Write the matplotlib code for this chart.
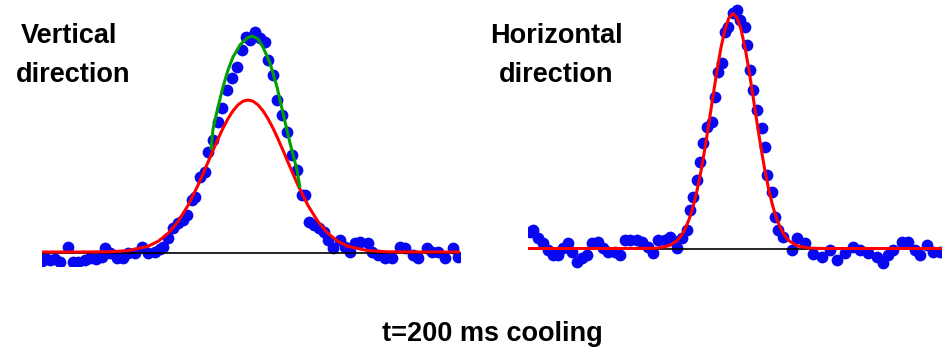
import matplotlib
matplotlib.use("Agg")
import matplotlib.pyplot as plt

plt.rcParams["font.family"] = ["Liberation Sans", "DejaVu Sans"]

# --- vertical direction (left panel) ---
vert_pos = [42, 45, 50, 55, 60, 68, 73, 78, 85, 90, 96, 102, 105, 110, 117, 123, 128,
            135, 142, 148, 155, 160, 163, 168, 173, 178, 183, 187, 192, 195, 200, 205,
            208, 213, 218, 222, 227, 232, 237, 242, 246, 250, 255, 260, 265, 268, 273,
            277, 282, 287, 292, 297, 302, 305, 309, 314, 319, 324, 328, 333, 340, 345,
            350, 355, 360, 368, 372, 378, 385, 392, 400, 405, 413, 418, 427, 432, 438,
            445, 453, 458]
vert_sig = [-8, -5, -7, -6, -9, 6, -9, -9, -7, -5, -6, -4, 5, 0, -5, -5, 0,
            0, 6, 0, 1, 4, 6, 15, 25, 30, 33, 38, 53, 56, 76, 81,
            101, 113, 131, 145, 163, 175, 186, 203, 216, 213, 221, 215, 211, 193, 178,
            153, 138, 121, 98, 83, 58, 58, 31, 28, 25, 21, 13, 5, 13, 6,
            1, 10, 11, 10, 1, -2, -5, -5, 6, 5, -2, -5, 5, 1, 1,
            -5, 5, -4]

vert_fit_pos = [42, 78, 108, 128, 148, 158, 168, 178, 188, 198, 203, 208, 213, 218, 223,
                228, 233, 238, 243, 248, 253, 258, 263, 268, 273, 278, 283, 288, 293,
                298, 308, 318, 328, 338, 348, 368, 388, 418, 460]
vert_fit_sig = [1, 1, 1.2, 2.3, 6.7, 11.6, 19.5, 31.4, 47.5, 67.8, 79.1, 90.8, 102.6,
                114.1, 124.8, 134.3, 142.2, 148.1, 151.8, 153, 151.8, 148.1, 142.2,
                134.3, 124.8, 114.1, 102.6, 90.8, 79.1, 67.8, 47.5, 31.4, 19.5, 11.6,
                6.7, 2.3, 1.2, 1, 1]

# second (narrower, taller) fit, only drawn over the peak
vert_fit2_pos = [211, 213, 218, 223, 228, 233, 240, 247, 252, 258, 263, 270, 277, 283,
                 290, 297, 300]
vert_fit2_sig = [103, 124, 146, 166, 183, 196, 208, 215, 217, 214, 206, 190, 166, 140,
                 110, 83, 65]

# --- horizontal direction (right panel) ---
hor_pos = [530, 533, 538, 543, 548, 553, 558, 563, 568, 572, 577, 582, 587, 592, 598,
           603, 608, 615, 620, 625, 630, 637, 642, 648, 653, 658, 665, 670, 672, 677,
           682, 687, 690, 693, 697, 700, 703, 707, 712, 715, 718, 722, 725, 728, 733,
           737, 740, 745, 747, 750, 753, 757, 762, 765, 767, 772, 775, 778, 783, 792,
           797, 805, 813, 822, 830, 837, 845, 853, 860, 868, 877, 883, 888, 893, 902,
           908, 915, 920, 927, 933, 940]
hor_sig = [17, 19, 11, 6, -1, -6, -6, 1, 6, -3, -13, -9, -6, 6, 7,
           1, -3, -3, -6, 9, 9, 9, 7, 2, -4, 9, 9, 12, 9, 1,
           11, 19, 39, 52, 69, 87, 106, 122, 127, 152, 177, 186, 217, 222, 236,
           239, 229, 222, 204, 179, 159, 139, 121, 102, 74, 57, 32, 19, 12, -1,
           11, 6, -5, -8, -1, -11, -4, 2, -1, -4, -8, -14, -6, -1, 7,
           7, -1, -6, 4, -3, -3]

hor_fit_pos = [528, 623, 643, 657, 669, 677, 681, 685, 689, 693, 697, 701, 705, 709,
               713, 717, 721, 725, 729, 733, 737, 741, 745, 749, 753, 757, 761, 765,
               769, 773, 777, 781, 785, 789, 797, 809, 823, 942]
hor_fit_sig = [0.5, 0.5, 0.6, 0.9, 3.2, 8.3, 13.0, 19.8, 29.4, 42.0, 58.3, 78.0, 101.1,
               126.4, 152.9, 178.6, 201.5, 219.7, 231.4, 235.4, 231.4, 219.7, 201.5,
               178.6, 152.9, 126.4, 101.1, 78.0, 58.3, 42.0, 29.4, 19.8, 13.0, 8.3,
               3.2, 0.9, 0.5, 0.5]

DOT = "#0808f0"
RED = "#ff0000"
GREEN = "#00a000"

fig = plt.figure(figsize=(9.42, 3.52), dpi=100)

# left panel
ax1 = fig.add_axes([42 / 942, 86 / 352, 418 / 942, 246 / 352])
ax1.scatter(vert_pos, vert_sig, s=72, color=DOT, linewidths=0, zorder=2)
ax1.axhline(0, color="black", lw=1.2, zorder=3)
ax1.plot(vert_fit_pos, vert_fit_sig, color=RED, lw=2.2, zorder=4)
ax1.plot(vert_fit2_pos, vert_fit2_sig, color=GREEN, lw=2.2, zorder=4,
         solid_capstyle="butt")
ax1.set_xlim(42, 460)
ax1.set_ylim(-13, 233)
ax1.axis("off")

# right panel
ax2 = fig.add_axes([528 / 942, 82 / 352, 414 / 942, 270 / 352])
ax2.scatter(hor_pos, hor_sig, s=72, color=DOT, linewidths=0, zorder=2)
ax2.hlines(0, 560, 942, color="black", lw=1.2, zorder=3)
ax2.plot(hor_fit_pos, hor_fit_sig, color=RED, lw=2.2, zorder=4)
ax2.set_xlim(528, 942)
ax2.set_ylim(-21, 249)
ax2.axis("off")

fs = 19.5
fig.text(69 / 942, 1 - 43 / 352, "Vertical", fontsize=fs, fontweight="bold",
         ha="center", va="baseline")
fig.text(73 / 942, 1 - 82 / 352, "direction", fontsize=fs, fontweight="bold",
         ha="center", va="baseline")
fig.text(556 / 942, 1 - 43 / 352, "Horizontal", fontsize=fs, fontweight="bold",
         ha="center", va="baseline")
fig.text(556 / 942, 1 - 82 / 352, "direction", fontsize=fs, fontweight="bold",
         ha="center", va="baseline")
fig.text(492 / 942, 1 - 341 / 352, "t=200 ms cooling", fontsize=fs,
         fontweight="bold", ha="center", va="baseline")

plt.savefig("out.png", dpi=100)
plt.close()
